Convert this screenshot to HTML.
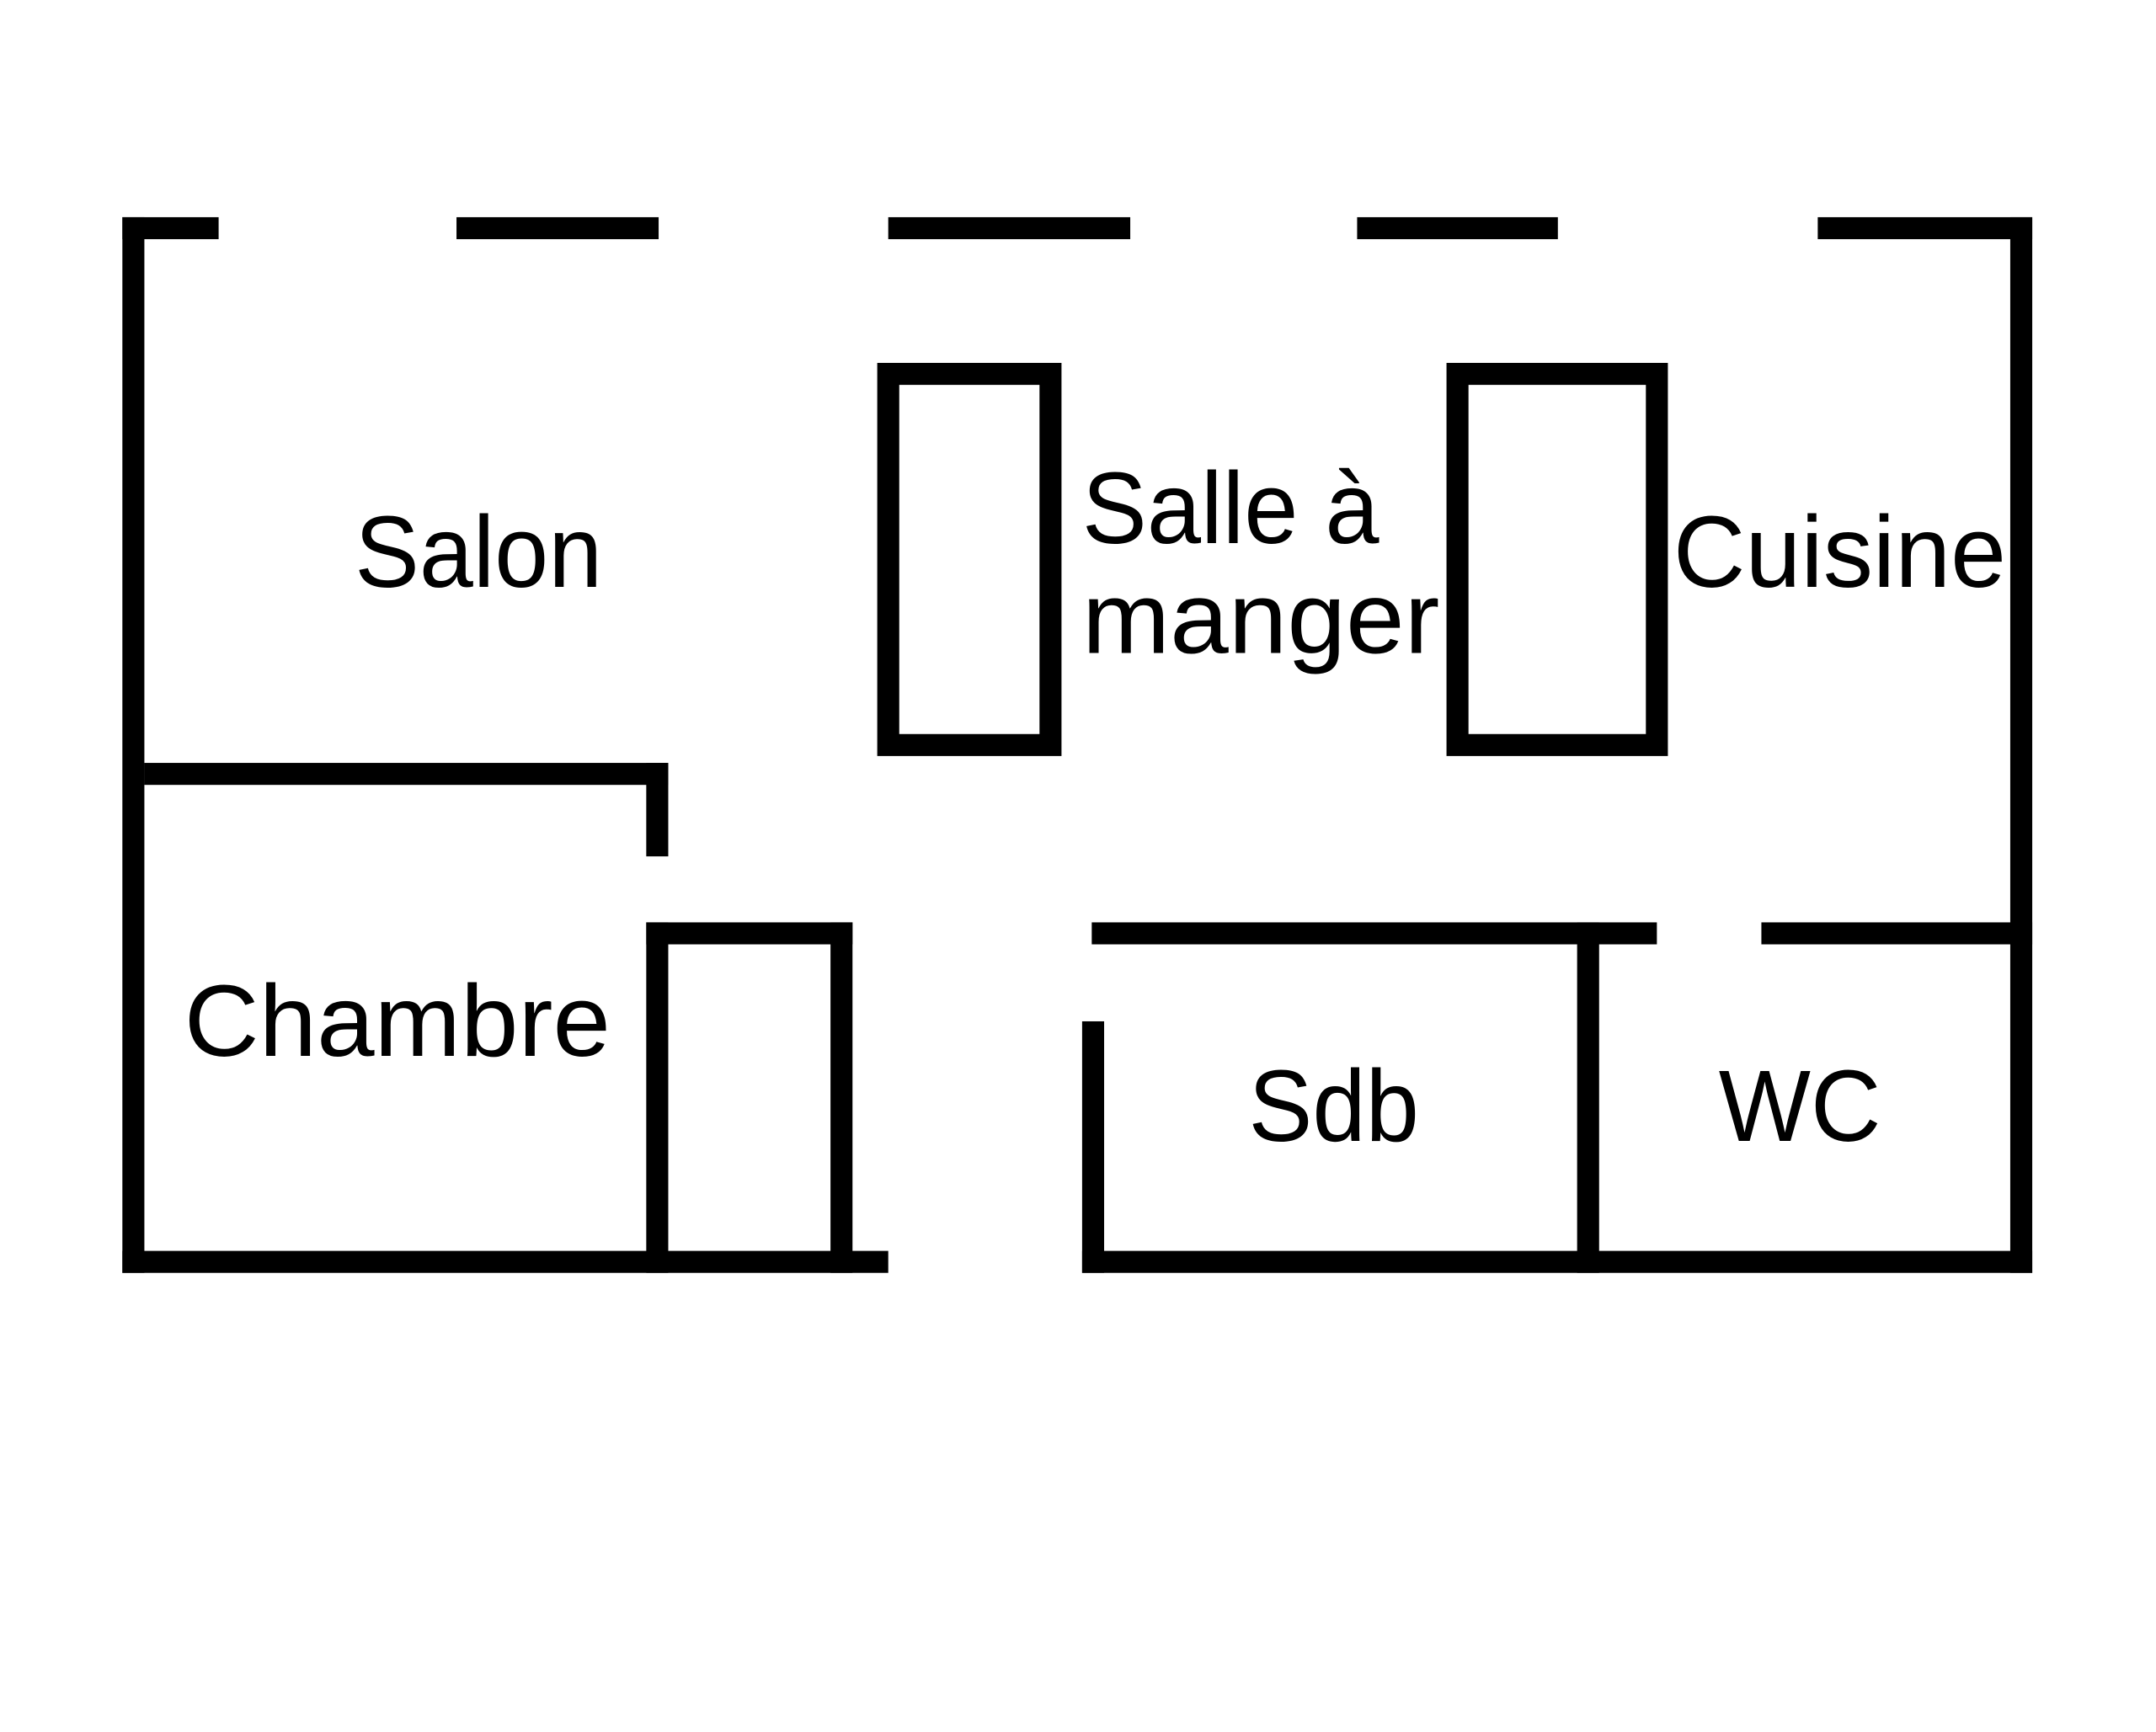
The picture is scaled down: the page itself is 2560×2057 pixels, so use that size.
<!DOCTYPE html>
<html><head><meta charset="utf-8"><style>
html,body{margin:0;padding:0;background:#fff;}
svg{display:block;}
text{font-family:"Liberation Sans",sans-serif;font-size:74px;fill:#000;}
</style></head><body>
<svg width="2560" height="2057" viewBox="0 0 1568 1260" preserveAspectRatio="none" xmlns="http://www.w3.org/2000/svg">
<rect width="1568" height="1260" fill="#fff"/>
<g fill="#000">
<rect x="89" y="158" width="16" height="768"/>
<rect x="89" y="158" width="70" height="16"/>
<rect x="332" y="158" width="147" height="16"/>
<rect x="646" y="158" width="176" height="16"/>
<rect x="987" y="158" width="146" height="16"/>
<rect x="1322" y="158" width="156" height="16"/>
<rect x="1462" y="158" width="16" height="768"/>
<rect x="89" y="910" width="557" height="16"/>
<rect x="787" y="910" width="691" height="16"/>
<rect x="105" y="555" width="381" height="16"/>
<rect x="470" y="555" width="16" height="68"/>
<rect x="470" y="671" width="150" height="16"/>
<rect x="470" y="671" width="16" height="255"/>
<rect x="604" y="671" width="16" height="255"/>
<rect x="794" y="671" width="411" height="16"/>
<rect x="787" y="743" width="16" height="183"/>
<rect x="1147" y="671" width="16" height="255"/>
<rect x="1281" y="671" width="197" height="16"/>
</g>
<rect x="646" y="272" width="118" height="270" fill="none" stroke="#000" stroke-width="16"/>
<rect x="1060" y="272" width="145" height="270" fill="none" stroke="#000" stroke-width="16"/>
<text x="258" y="427" textLength="180" lengthAdjust="spacingAndGlyphs">Salon</text>
<text x="787" y="395" textLength="216" lengthAdjust="spacingAndGlyphs">Salle à</text>
<text x="787" y="475" textLength="260" lengthAdjust="spacingAndGlyphs">manger</text>
<text x="1217" y="427" textLength="242" lengthAdjust="spacingAndGlyphs">Cuisine</text>
<text x="134" y="768" textLength="310" lengthAdjust="spacingAndGlyphs">Chambre</text>
<text x="908" y="830" textLength="124" lengthAdjust="spacingAndGlyphs">Sdb</text>
<text x="1250" y="830" textLength="118" lengthAdjust="spacingAndGlyphs">WC</text>
</svg>
</body></html>
